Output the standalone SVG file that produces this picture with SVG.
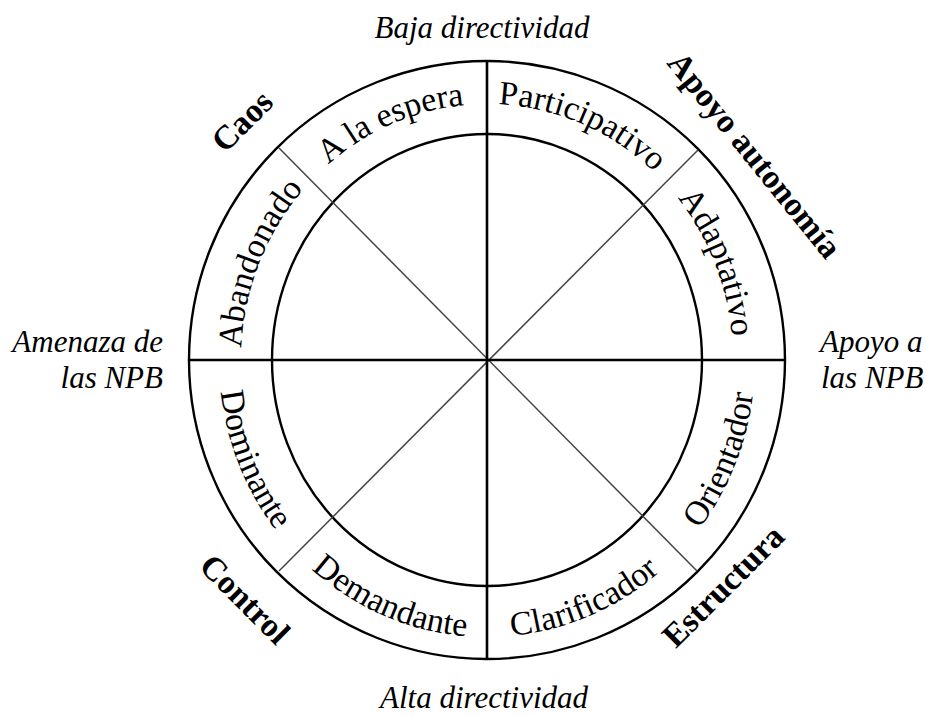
<svg xmlns="http://www.w3.org/2000/svg" width="926" height="716" viewBox="0 0 926 716">
<style>
.ring{fill:none;stroke:#000;stroke-width:2.4}
.axis{fill:none;stroke:#000;stroke-width:2.6}
.diag{fill:none;stroke:#444;stroke-width:1.5}
.lbl{font-family:"Liberation Serif","Times New Roman",serif;font-size:34px;fill:#000}
.pole{font-family:"Liberation Serif","Times New Roman",serif;font-size:33.5px;font-weight:bold;fill:#000}
.dim{font-family:"Liberation Serif","Times New Roman",serif;font-size:31px;font-style:italic;fill:#000}
</style>
<defs>
<path id="pAbandonado" d="M252.4,437.0 A246,256 0 0 1 373.4,132.9"/>
<path id="pEspera" d="M268.8,241.8 A246,256 0 0 1 561.0,115.9"/>
<path id="pParticipativo" d="M413.0,115.9 A246,256 0 0 1 705.2,241.8"/>
<path id="pAdaptativo" d="M600.6,132.9 A246,256 0 0 1 721.6,437.0"/>
<path id="pDominante" d="M231.4,276.7 A268,277 0 0 0 363.3,605.7"/>
<path id="pDemandante" d="M249.3,487.9 A268,277 0 0 0 567.6,624.2"/>
<path id="pClarificador" d="M406.4,624.2 A268,277 0 0 0 724.7,487.9"/>
<path id="pOrientador" d="M610.7,605.7 A268,277 0 0 0 742.6,276.7"/>
</defs>
<rect width="926" height="716" fill="#fff"/>
<g id="wheel">
<ellipse class="ring" cx="487" cy="360" rx="298" ry="299"/>
<ellipse class="ring" cx="487" cy="360" rx="215" ry="226"/>
</g>
<g id="connectors">
<path class="diag" d="M279,148 L697,571"/>
<path class="diag" d="M698,150 L279,571"/>
<path class="axis" d="M189,360 H786"/>
<path class="axis" d="M487,61 V659"/>
</g>
<g id="abandonado"><text class="lbl"><textPath href="#pAbandonado" startOffset="50%" text-anchor="middle">Abandonado</textPath></text></g>
<g id="a-la-espera"><text class="lbl"><textPath href="#pEspera" startOffset="50%" text-anchor="middle">A la espera</textPath></text></g>
<g id="participativo"><text class="lbl"><textPath href="#pParticipativo" startOffset="50%" text-anchor="middle">Participativo</textPath></text></g>
<g id="adaptativo"><text class="lbl"><textPath href="#pAdaptativo" startOffset="50%" text-anchor="middle">Adaptativo</textPath></text></g>
<g id="dominante"><text class="lbl"><textPath href="#pDominante" startOffset="50%" text-anchor="middle">Dominante</textPath></text></g>
<g id="demandante"><text class="lbl"><textPath href="#pDemandante" startOffset="50%" text-anchor="middle">Demandante</textPath></text></g>
<g id="clarificador"><text class="lbl"><textPath href="#pClarificador" startOffset="50%" text-anchor="middle">Clarificador</textPath></text></g>
<g id="orientador"><text class="lbl"><textPath href="#pOrientador" startOffset="50%" text-anchor="middle">Orientador</textPath></text></g>
<g id="caos"><text class="pole" text-anchor="middle" transform="translate(250,129) rotate(-45)">Caos</text></g>
<g id="apoyo-autonomia"><text class="pole" text-anchor="middle" transform="translate(746,162) rotate(51)">Apoyo autonomía</text></g>
<g id="control"><text class="pole" text-anchor="middle" transform="translate(237,607) rotate(45)">Control</text></g>
<g id="estructura"><text class="pole" text-anchor="middle" transform="translate(731,594) rotate(-45)">Estructura</text></g>
<g id="baja"><text class="dim" x="482" y="38" text-anchor="middle">Baja directividad</text></g>
<g id="alta"><text class="dim" x="484" y="708" text-anchor="middle">Alta directividad</text></g>
<g id="amenaza"><text class="dim" text-anchor="end"><tspan x="163" y="352">Amenaza de</tspan><tspan x="163" y="388">las NPB</tspan></text></g>
<g id="apoyo-npb"><text class="dim"><tspan x="820" y="352">Apoyo a</tspan><tspan x="821" y="388">las NPB</tspan></text></g>
</svg>
